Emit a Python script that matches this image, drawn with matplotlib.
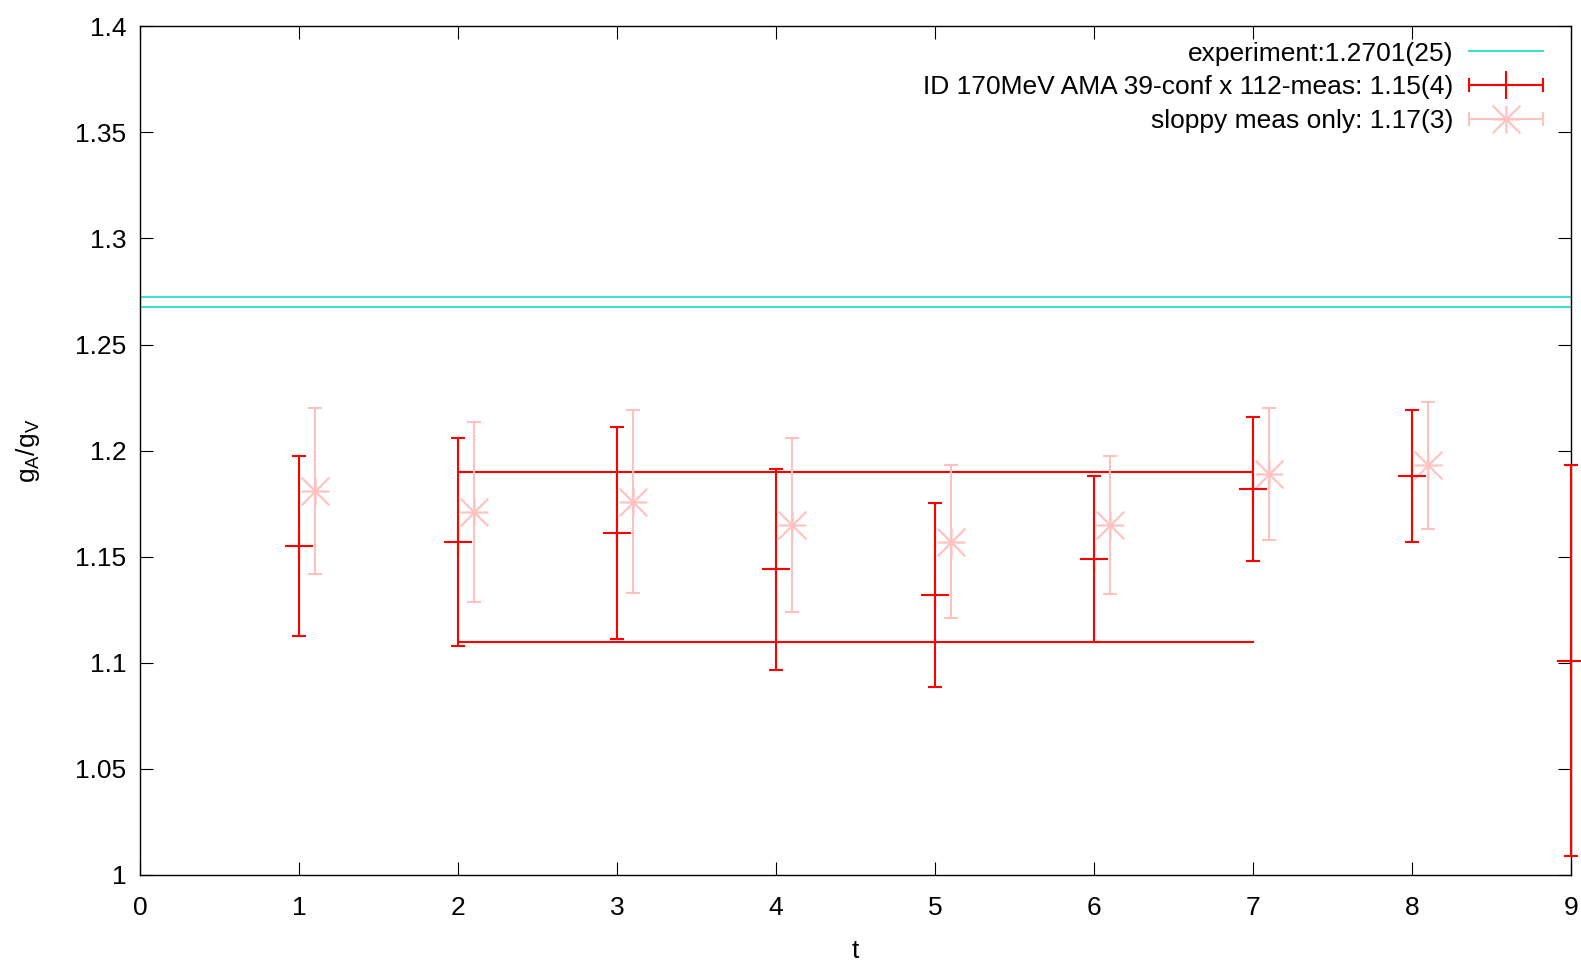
import matplotlib.pyplot as plt
import matplotlib.ticker as ticker
import numpy as np
from matplotlib.lines import Line2D
from matplotlib.path import Path
from matplotlib.collections import LineCollection
from matplotlib.container import ErrorbarContainer
from matplotlib.legend_handler import HandlerErrorbar

plt.rcParams['font.family'] = ['Liberation Sans', 'DejaVu Sans']
plt.rcParams['mathtext.fontset'] = 'custom'
plt.rcParams['mathtext.rm'] = 'Liberation Sans'
plt.rcParams['mathtext.it'] = 'Liberation Sans'
plt.rcParams['mathtext.default'] = 'regular'

# AMA (exact + sloppy corrected) ratio per source-sink separation
t_ama = [1, 2, 3, 4, 5, 6, 7, 8, 9]
ga_ama = [1.155, 1.157, 1.161, 1.144, 1.132, 1.149, 1.182, 1.188, 1.101]
err_ama = [0.0425, 0.049, 0.050, 0.0475, 0.0435, 0.039, 0.034, 0.031, 0.092]

# sloppy measurements only, shifted by 0.1 in t
t_sloppy = [1.1, 2.1, 3.1, 4.1, 5.1, 6.1, 7.1, 8.1]
ga_sloppy = [1.181, 1.171, 1.176, 1.165, 1.157, 1.165, 1.189, 1.193]
err_sloppy = [0.039, 0.0425, 0.043, 0.041, 0.036, 0.0325, 0.031, 0.030]

# experimental value and plateau fit
exp_val, exp_err = 1.2701, 0.0025
fit_val, fit_err = 1.15, 0.04
fit_range = [2, 7]

label_exp = 'experiment:1.2701(25)'
label_ama = 'ID 170MeV AMA 39-conf x 112-meas: 1.15(4)'
label_sloppy = 'sloppy meas only: 1.17(3)'

c_exp = '#40e0d0'
c_ama = '#ff0000'
c_sloppy = '#ffc0c0'
fs = 19

# gnuplot style "*" : plus and cross together
star = Path([(-1, 0), (1, 0), (0, -1), (0, 1), (-1, -1), (1, 1), (-1, 1), (1, -1)],
            [Path.MOVETO, Path.LINETO] * 4)

fig = plt.figure(figsize=(15.81, 9.61), dpi=100)
ax = fig.add_axes([0.0886, 0.0895, 0.9051, 0.8832])

for v in (exp_val + exp_err, exp_val - exp_err):
    ax.axhline(v, color=c_exp, lw=1.5)

# errorbars are not clipped, the t=9 point sits on the right border
eb = ax.errorbar(t_ama, ga_ama, yerr=err_ama, fmt='+', color=c_ama, ms=19.5, mew=1.5,
                 elinewidth=1.5, capsize=4.8, capthick=1.5, zorder=3)
for a in eb.get_children():
    a.set_clip_on(False)
for v in (fit_val + fit_err, fit_val - fit_err):
    ax.plot(fit_range, [v, v], color=c_ama, lw=1.5)

ax.errorbar(t_sloppy, ga_sloppy, yerr=err_sloppy, fmt='none', ecolor=c_sloppy,
            elinewidth=1.5, capsize=4.8, capthick=1.5)
ax.plot(t_sloppy, ga_sloppy, ls='none', marker=star, ms=20, mew=1.5,
        color=c_sloppy, mfc='none')


def key_entry(color, marker, ms, label):
    line = Line2D([], [], color=color, marker=marker, ms=ms, mew=1.5, mfc='none', lw=0)
    caps = (Line2D([], [], color=color, marker='|', ms=9.6, mew=1.5, lw=0),)
    bars = (LineCollection([], colors=color, linewidths=1.5),)
    return ErrorbarContainer((line, caps, bars), has_xerr=True, has_yerr=False, label=label)


h_exp = Line2D([], [], color=c_exp, lw=1.5, label=label_exp)
h_ama = key_entry(c_ama, '+', 19.5, label_ama)
h_sloppy = key_entry(c_sloppy, star, 20, label_sloppy)

ax.legend(handles=[h_exp, h_ama, h_sloppy], loc='upper right', bbox_to_anchor=(0.9804, 0.982),
          borderaxespad=0, borderpad=0, frameon=False, markerfirst=False, fontsize=fs,
          handlelength=2.8, handletextpad=0.6, labelspacing=0.37, numpoints=1,
          handler_map={ErrorbarContainer: HandlerErrorbar(xerr_size=1.4)})

ax.set_xlim(0, 9)
ax.set_ylim(1.0, 1.4)
ax.xaxis.set_major_locator(ticker.MultipleLocator(1))
ax.yaxis.set_major_locator(ticker.MultipleLocator(0.05))
ax.yaxis.set_major_formatter(ticker.FormatStrFormatter('%g'))
ax.tick_params(direction='in', length=9.5, width=0.8, top=True, right=True, labelsize=fs)
ax.tick_params(axis='y', pad=10)
ax.tick_params(axis='x', pad=15)
for s in ax.spines.values():
    s.set_linewidth(1.0)

ax.set_xlabel('t', fontsize=fs, labelpad=14)
ax.set_ylabel(r'g$_A$/g$_V$', fontsize=fs, labelpad=24)

fig.savefig('out.png', dpi=100)
